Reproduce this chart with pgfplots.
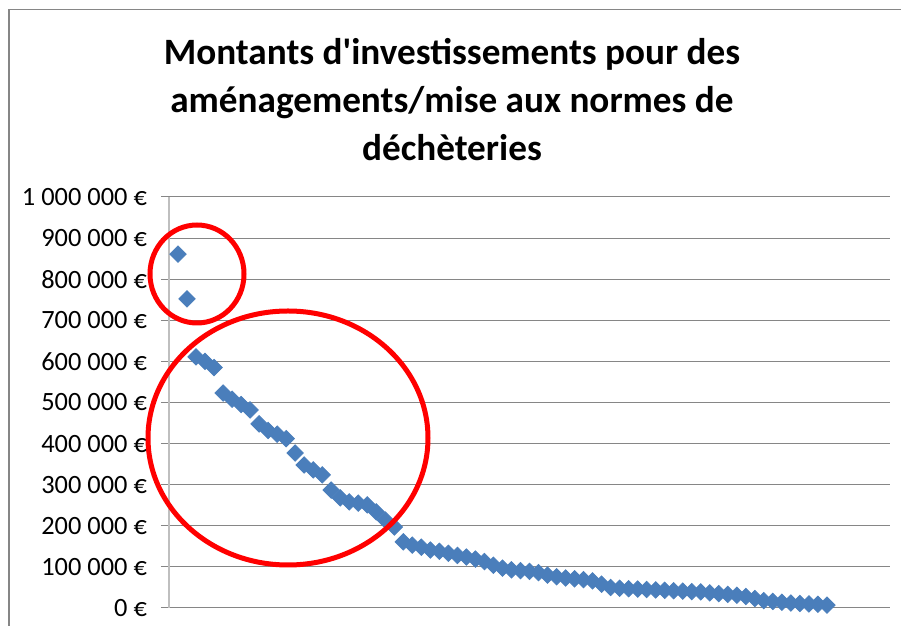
\documentclass[border=0pt]{standalone}
\usepackage{pgfplots}
\pgfplotsset{compat=1.18}
\usepackage{fontspec}
\setmainfont{Carlito}[Ligatures=TeXOff]
\definecolor{markblue}{HTML}{4A7EBB}
\definecolor{gridgray}{HTML}{868686}
\definecolor{axisgray}{HTML}{BFBFBF}
\begin{document}
\begin{tikzpicture}[x=0.5pt,y=0.5pt]
% picture laid out in pixels of the reference (1px = 0.5pt), y measured up from the bottom
\useasboundingbox (0,0) rectangle (901,626);
\draw[gridgray, line width=0.75pt] (9,0) -- (9,616.5) -- (901,616.5);
\node[font=\bfseries\fontsize{18.6}{24}\selectfont, align=center] at (452,526)
  {Montants d'investissements pour des\\aménagements/mise aux normes de\\déchèteries};
\begin{axis}[
  at={(84.5pt,9pt)}, anchor=south west,
  scale only axis, width=360.5pt, height=205.5pt,
  xmin=0, xmax=80, ymin=0, ymax=1000000,
  axis x line*=bottom, axis y line*=left,
  x axis line style={gridgray, line width=0.5pt, -},
  y axis line style={axisgray, line width=0.75pt, -},
  xtick=\empty,
  ytick={0,100000,...,1000000}, scaled y ticks=false,
  yticklabels={0 €,100 000 €,200 000 €,300 000 €,400 000 €,500 000 €,600 000 €,700 000 €,800 000 €,900 000 €,1 000 000 €},
  yticklabel style={font=\fontsize{13.2}{15}\selectfont, xshift=-3.5pt},
  tick align=outside, major tick length=4pt,
  y tick style={gridgray, line width=0.5pt},
  ymajorgrids, grid style={gridgray, line width=0.5pt},
  clip=false,
]
\addplot[only marks, mark=square*, mark size=2.9pt,
  mark options={rotate=45, fill=markblue, draw=markblue}] coordinates {
(1,861000)(2,752000)(3,611000)(4,600000)(5,585000)(6,523000)(7,508000)(8,495000)
(9,482000)(10,448000)(11,432000)(12,423000)(13,412000)(14,377000)(15,348000)
(16,336000)(17,324000)(18,287000)(19,268000)(20,258000)(21,255000)(22,251000)
(23,234000)(24,214000)(25,197000)(26,161000)(27,153000)(28,148000)(29,141000)
(30,138000)(31,133000)(32,128000)(33,124000)(34,119000)(35,113000)(36,104000)
(37,97000)(38,93000)(39,91000)(40,89000)(41,86000)(42,80000)(43,76000)(44,73000)
(45,71000)(46,69000)(47,66000)(48,58000)(49,50000)(50,48000)(51,47000)(52,46000)
(53,45000)(54,44000)(55,43000)(56,42000)(57,41000)(58,40000)(59,39000)(60,37000)
(61,35000)(62,33000)(63,31000)(64,28000)(65,23000)(66,18000)(67,16000)(68,14000)
(69,12000)(70,11000)(71,10000)(72,9000)(73,7000)
};
\end{axis}
% red annotation circles
\draw[red, line width=2.5pt] (197,352) ellipse [x radius=23.5pt, y radius=24.5pt];
\draw[red, line width=2.5pt] (288,188) ellipse [x radius=70pt, y radius=63.5pt];
\end{tikzpicture}
\end{document}
